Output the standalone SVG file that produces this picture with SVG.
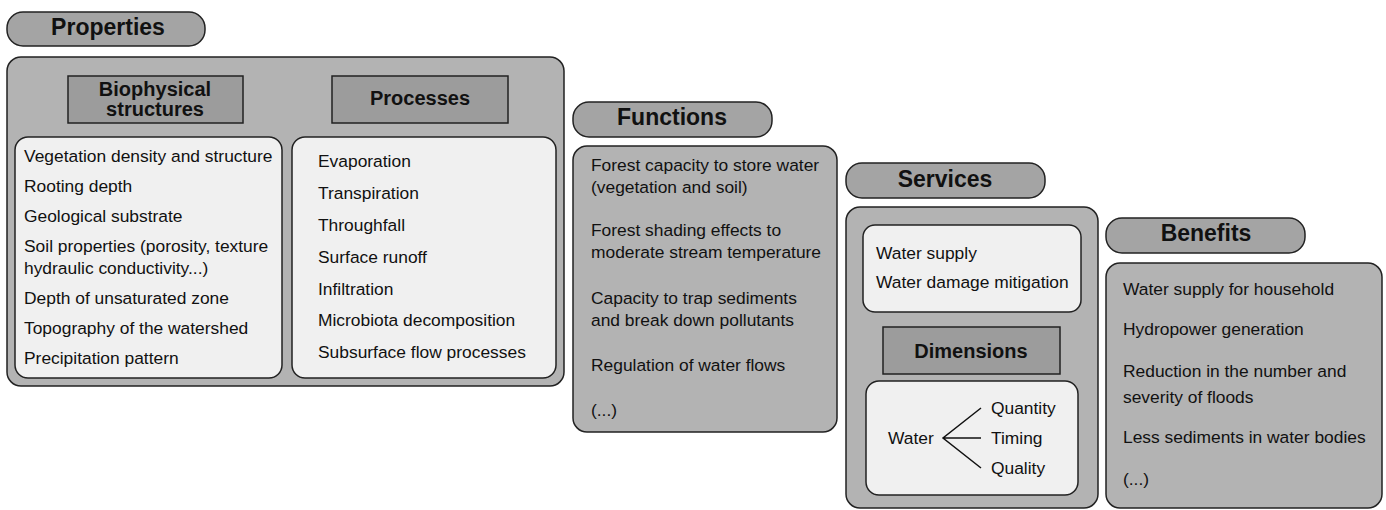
<svg xmlns="http://www.w3.org/2000/svg" width="1386" height="510" viewBox="0 0 1386 510">
<style>
text{font-family:"Liberation Sans",Arial,sans-serif;fill:#111}
.t{font-size:17.4px}
.h{font-size:23px;font-weight:bold;text-anchor:middle}
.s{font-size:20px;font-weight:bold;text-anchor:middle}
.hdr{fill:#a4a4a4;stroke:#222;stroke-width:1.5}
.box{fill:#b3b3b3;stroke:#222;stroke-width:1.5}
.sub{fill:#9c9c9c;stroke:#222;stroke-width:1.5}
.wb{fill:#f0f0f0;stroke:#222;stroke-width:1.5}
.ln{stroke:#111;stroke-width:1.5;fill:none}
</style>
<rect width="1386" height="510" fill="#fff"/>
<g id="properties">
<rect class="hdr" x="7" y="12" width="198" height="34" rx="16"/>
<text class="h" x="108" y="35">Properties</text>
<rect class="box" x="7" y="57" width="557" height="329" rx="14"/>
</g>
<g id="biophysical">
<rect class="sub" x="68" y="76" width="175" height="47"/>
<text class="s" x="155" y="96">Biophysical</text>
<text class="s" x="155" y="116">structures</text>
<rect class="wb" x="15" y="137" width="267" height="241" rx="13"/>
<text class="t" x="24" y="162">Vegetation density and structure</text>
<text class="t" x="24" y="192">Rooting depth</text>
<text class="t" x="24" y="222">Geological substrate</text>
<text class="t" x="24" y="252">Soil properties (porosity, texture</text>
<text class="t" x="24" y="274">hydraulic conductivity...)</text>
<text class="t" x="24" y="304">Depth of unsaturated zone</text>
<text class="t" x="24" y="334">Topography of the watershed</text>
<text class="t" x="24" y="364">Precipitation pattern</text>
</g>
<g id="processes">
<rect class="sub" x="332" y="76" width="176" height="47"/>
<text class="s" x="420" y="105">Processes</text>
<rect class="wb" x="292" y="137" width="264" height="241" rx="13"/>
<text class="t" x="318" y="167">Evaporation</text>
<text class="t" x="318" y="199">Transpiration</text>
<text class="t" x="318" y="231">Throughfall</text>
<text class="t" x="318" y="263">Surface runoff</text>
<text class="t" x="318" y="295">Infiltration</text>
<text class="t" x="318" y="326">Microbiota decomposition</text>
<text class="t" x="318" y="358">Subsurface flow processes</text>
</g>
<g id="functions">
<rect class="hdr" x="573" y="102" width="199" height="35" rx="16"/>
<text class="h" x="672" y="125">Functions</text>
<rect class="box" x="573" y="146" width="264" height="286" rx="14"/>
<text class="t" x="591" y="171">Forest capacity to store water</text>
<text class="t" x="591" y="193">(vegetation and soil)</text>
<text class="t" x="591" y="236">Forest shading effects to</text>
<text class="t" x="591" y="258">moderate stream temperature</text>
<text class="t" x="591" y="304">Capacity to trap sediments</text>
<text class="t" x="591" y="326">and break down pollutants</text>
<text class="t" x="591" y="371">Regulation of water flows</text>
<text class="t" x="591" y="416">(...)</text>
</g>
<g id="services">
<rect class="hdr" x="846" y="163" width="199" height="35" rx="16"/>
<text class="h" x="945" y="187">Services</text>
<rect class="box" x="846" y="207" width="252" height="301" rx="14"/>
<rect class="wb" x="863" y="225" width="218" height="87" rx="12"/>
<text class="t" x="876" y="259">Water supply</text>
<text class="t" x="876" y="288">Water damage mitigation</text>
</g>
<g id="dimensions">
<rect class="sub" x="883" y="327" width="177" height="47"/>
<text class="s" x="971" y="358">Dimensions</text>
<rect class="wb" x="866" y="381" width="212" height="114" rx="13"/>
<text class="t" x="888" y="444">Water</text>
<text class="t" x="991" y="414">Quantity</text>
<text class="t" x="991" y="444">Timing</text>
<text class="t" x="991" y="474">Quality</text>
</g>
<g id="connectors">
<path class="ln" d="M981 408 L943 438 L981 468 M943 438 L981 438"/>
</g>
<g id="benefits">
<rect class="hdr" x="1106" y="218" width="199" height="35" rx="16"/>
<text class="h" x="1206" y="241">Benefits</text>
<rect class="box" x="1106" y="263" width="276" height="245" rx="14"/>
<text class="t" x="1123" y="295">Water supply for household</text>
<text class="t" x="1123" y="335">Hydropower generation</text>
<text class="t" x="1123" y="377">Reduction in the number and</text>
<text class="t" x="1123" y="403">severity of floods</text>
<text class="t" x="1123" y="443">Less sediments in water bodies</text>
<text class="t" x="1123" y="485">(...)</text>
</g>
</svg>
